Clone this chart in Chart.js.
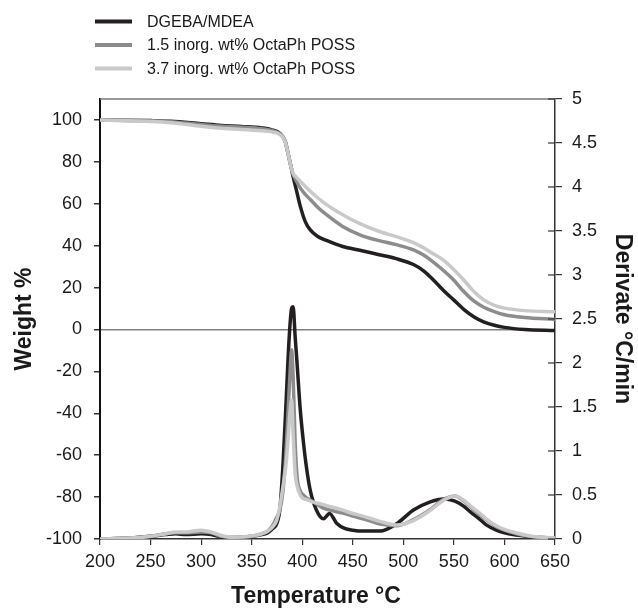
<!DOCTYPE html>
<html>
<head>
<meta charset="utf-8">
<title>TGA / DTG – DGEBA/MDEA with OctaPh POSS</title>
<script src="https://cdn.jsdelivr.net/npm/chart.js@4.4.0/dist/chart.umd.min.js"></script>
<style>
  html, body { margin: 0; padding: 0; background: #fff; }
  #chart { display: block; }
</style>
</head>
<body>
<canvas id="chart" width="638" height="609"></canvas>
<script>
// --- Series ---
const seriesNames = ['DGEBA/MDEA', '1.5 inorg. wt% OctaPh POSS', '3.7 inorg. wt% OctaPh POSS'];
const seriesColors = ['#231f20', '#8c8c8c', '#c9c9c9'];

// --- Weight % (left axis) ---
const weightTemps = [200, 250, 270, 300, 320, 340, 360, 370, 378, 383, 386, 389, 391, 394, 398, 403, 408, 415, 424, 440, 457, 475, 493, 510, 520, 530, 540, 550, 560, 570, 580, 590, 600, 620, 650];
const weightNeat  = [100, 99.7, 99.4, 98.2, 97.4, 96.9, 96.2, 95.3, 93.5, 90, 84, 77.5, 73, 67, 59, 51.5, 47.5, 44.5, 42.5, 39.6, 37.8, 35.8, 33.8, 31, 28, 23.5, 18.5, 14, 9.5, 6, 3.5, 2, 1, 0, -0.5];
const weightPoss15 = [100, 99.6, 99.2, 97.8, 97, 96.5, 95.8, 95, 93.3, 90, 84, 77.5, 74, 71, 67.6, 64.5, 62, 58.5, 54.8, 49.2, 45.2, 42.5, 40.5, 38, 35.5, 32, 28, 23.5, 18, 13.5, 10.5, 8.5, 7, 5.7, 4.8];
const weightPoss37 = [100, 99.3, 98.7, 97, 96, 95.5, 94.8, 94.3, 93, 89.8, 84, 77.5, 74.5, 72.8, 70.8, 68.3, 66, 63, 59.6, 54.8, 50.5, 47, 44.3, 41.5, 39, 36, 33, 28.5, 23.5, 18, 14, 11.5, 10.2, 9, 8.4];

// --- Derivative °C/min (right axis) ---
const derivTemps = [200, 230, 250, 265, 275, 285, 300, 310, 320, 330, 350, 360, 366, 371, 375, 378, 381, 384, 386, 388, 389.5, 391, 393, 395, 398, 401, 404, 408, 414, 421, 427, 434, 442, 450, 460, 477, 493, 510, 526, 540, 551, 560, 566, 576, 582, 592, 600, 612, 625, 650];
const derivNeat   = [0, 0.01, 0.03, 0.05, 0.06, 0.05, 0.06, 0.05, 0.02, 0.01, 0.03, 0.05, 0.07, 0.12, 0.18, 0.35, 0.85, 1.55, 2.05, 2.45, 2.62, 2.64, 2.3, 1.98, 1.48, 1.12, 0.83, 0.55, 0.33, 0.23, 0.29, 0.18, 0.12, 0.1, 0.09, 0.09, 0.17, 0.33, 0.42, 0.455, 0.43, 0.37, 0.31, 0.22, 0.16, 0.1, 0.07, 0.045, 0.025, 0.01];
const derivPoss15 = [0, 0.01, 0.03, 0.06, 0.07, 0.07, 0.08, 0.07, 0.03, 0.02, 0.03, 0.06, 0.09, 0.16, 0.25, 0.33, 0.55, 1.0, 1.45, 1.9, 2.15, 1.85, 1.1, 0.7, 0.55, 0.5, 0.47, 0.44, 0.4, 0.35, 0.33, 0.31, 0.29, 0.26, 0.23, 0.17, 0.15, 0.22, 0.33, 0.45, 0.49, 0.43, 0.37, 0.27, 0.22, 0.14, 0.1, 0.06, 0.03, 0.01];
const derivPoss37 = [0, 0.01, 0.03, 0.06, 0.08, 0.08, 0.1, 0.08, 0.04, 0.02, 0.035, 0.06, 0.09, 0.14, 0.22, 0.38, 0.6, 0.85, 1.13, 1.45, 1.58, 1.2, 0.75, 0.6, 0.5, 0.46, 0.45, 0.43, 0.41, 0.39, 0.37, 0.35, 0.32, 0.29, 0.26, 0.2, 0.16, 0.21, 0.32, 0.44, 0.49, 0.44, 0.38, 0.29, 0.23, 0.15, 0.11, 0.07, 0.035, 0.01];

// --- Helpers ---
const FONT = '"Liberation Sans", Arial, sans-serif';
const toPoints = (xs, ys) => xs.map((x, i) => ({ x: x, y: ys[i] }));

function makeLine(label, idx, xs, ys, axis) {
    return {
        label: label,
        data: toPoints(xs, ys),
        yAxisID: axis,
        borderColor: seriesColors[idx],
        borderWidth: 3.5,
        pointRadius: 0,
        fill: false,
        cubicInterpolationMode: 'monotone',
        order: 2 - idx // light grey drawn on top
    };
}

const weightSets = [weightNeat, weightPoss15, weightPoss37];
const derivSets = [derivNeat, derivPoss15, derivPoss37];
const datasets = [];
seriesNames.forEach((name, i) => {
    datasets.push(makeLine(name, i, weightTemps, weightSets[i], 'y'));
    datasets.push(makeLine(name, i, derivTemps, derivSets[i], 'y1'));
});

// --- Extra drawing: frame, crossing ticks, legend, titles ---
const decorPlugin = {
    id: 'decor',
    afterDraw(chart) {
        const ctx = chart.ctx;
        const area = chart.chartArea;
        ctx.save();

        // top frame line
        ctx.strokeStyle = '#777';
        ctx.lineWidth = 1.5;
        ctx.beginPath();
        ctx.moveTo(area.left, area.top);
        ctx.lineTo(area.right, area.top);
        ctx.stroke();

        // right axis ticks cross the axis line
        const y1 = chart.scales.y1;
        ctx.strokeStyle = '#333';
        ctx.lineWidth = 1.2;
        y1.ticks.forEach(t => {
            const py = y1.getPixelForValue(t.value);
            ctx.beginPath();
            ctx.moveTo(area.right - 7, py);
            ctx.lineTo(area.right, py);
            ctx.stroke();
        });

        // legend
        ctx.font = '16px ' + FONT;
        ctx.textBaseline = 'middle';
        ctx.textAlign = 'left';
        const rows = [21.5, 45, 68.5];
        seriesNames.forEach((name, i) => {
            ctx.strokeStyle = seriesColors[i];
            ctx.lineWidth = 4;
            ctx.beginPath();
            ctx.moveTo(95, rows[i]);
            ctx.lineTo(132, rows[i]);
            ctx.stroke();
            ctx.fillStyle = '#1a1a1a';
            ctx.fillText(name, 147, rows[i] + 1);
        });

        // axis titles
        const midY = (area.top + area.bottom) / 2;
        ctx.fillStyle = '#1a1a1a';
        ctx.font = 'bold 23px ' + FONT;
        ctx.textAlign = 'center';
        ctx.textBaseline = 'alphabetic';
        ctx.fillText('Temperature °C', 316, 603);

        ctx.save();
        ctx.translate(31, midY);
        ctx.rotate(-Math.PI / 2);
        ctx.fillText('Weight %', 0, 0);
        ctx.restore();

        ctx.save();
        ctx.translate(616, midY);
        ctx.rotate(Math.PI / 2);
        ctx.fillText('Derivate °C/min', 0, 0);
        ctx.restore();

        ctx.restore();
    }
};

// --- Chart ---
const tickFont = { family: FONT, size: 18 };

new Chart(document.getElementById('chart').getContext('2d'), {
    type: 'line',
    data: { datasets: datasets },
    plugins: [decorPlugin],
    options: {
        responsive: false,
        animation: false,
        devicePixelRatio: 1,
        layout: { padding: { top: 99, left: 0, right: 0, bottom: 0 } },
        plugins: { legend: { display: false }, tooltip: { enabled: false } },
        scales: {
            x: {
                type: 'linear',
                min: 200,
                max: 650,
                ticks: { stepSize: 50, color: '#1a1a1a', font: tickFont, padding: 6, maxRotation: 0 },
                grid: { drawOnChartArea: false, tickLength: 6, tickColor: '#333', lineWidth: 1.2 },
                border: { color: '#333', width: 1.5 },
                afterFit: s => { s.height = 70; }
            },
            y: {
                position: 'left',
                min: -100,
                max: 110,
                ticks: { stepSize: 20, color: '#1a1a1a', font: tickFont, padding: 12 },
                afterBuildTicks: s => { s.ticks = s.ticks.filter(t => t.value <= 100); },
                grid: {
                    color: c => (c.tick && c.tick.value === 0) ? '#808080' : 'rgba(0,0,0,0)',
                    lineWidth: 1.5,
                    tickLength: 6,
                    tickColor: '#333'
                },
                border: { color: '#111', width: 2 },
                afterFit: s => { s.width = 100; }
            },
            y1: {
                position: 'right',
                min: 0,
                max: 5,
                ticks: { stepSize: 0.5, color: '#1a1a1a', font: tickFont, padding: 10, callback: v => String(v) },
                grid: { drawOnChartArea: false, tickLength: 7, tickColor: '#333', lineWidth: 1.2 },
                border: { color: '#333', width: 1.5 },
                afterFit: s => { s.width = 83; }
            }
        }
    }
});
</script>
</body>
</html>
